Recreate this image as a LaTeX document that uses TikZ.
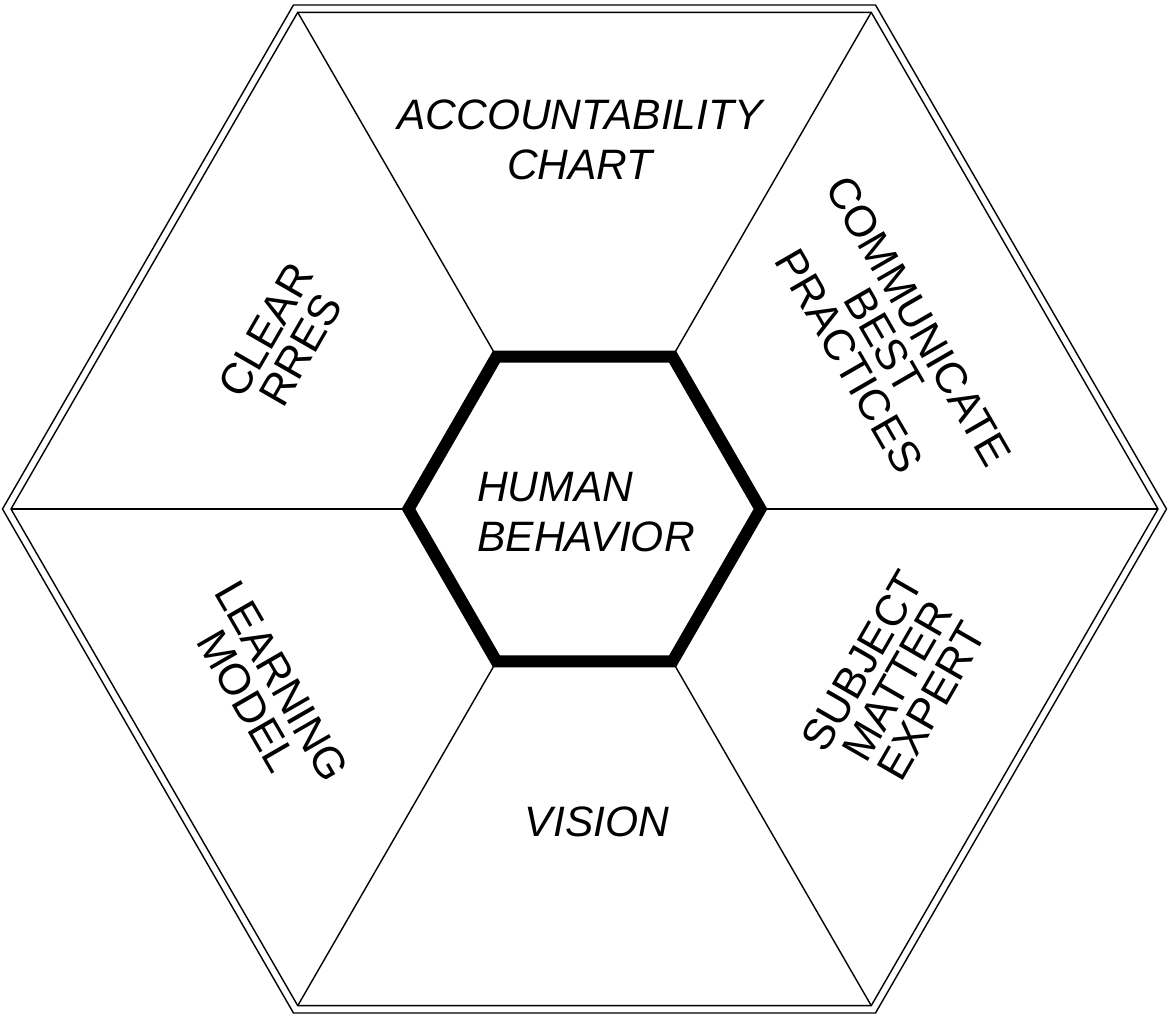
\documentclass[tikz,border=0pt]{standalone}
\usepackage{fontspec}
\setmainfont{Liberation Sans}
\begin{document}
\begin{tikzpicture}[
        word/.style={font=\fontsize{12.4}{11.4}\selectfont, align=center, inner sep=0pt},
        slantword/.style={word, font=\fontsize{12.1}{14.2}\selectfont\itshape}]
    \useasboundingbox (-5.845, -5.07) rectangle (5.845, 5.09);
    % spokes from the hub to the rim
    \foreach \i in {0,...,5}{
        \coordinate (hub\i) at (\i*60:1.76);
        \coordinate (rim\i) at (\i*60:5.735);
        \coordinate (edge\i) at (\i*60:5.82);
        \draw [line width=0.4pt] (hub\i) -- (rim\i);
    }
    % double rim
    \draw [line width=0.4pt] (rim0) -- (rim1) -- (rim2) -- (rim3) -- (rim4) -- (rim5) -- cycle;
    \draw [line width=0.4pt] (edge0) -- (edge1) -- (edge2) -- (edge3) -- (edge4) -- (edge5) -- cycle;
    % thick hub
    \draw [line width=3.4pt] (hub0) -- (hub1) -- (hub2) -- (hub3) -- (hub4) -- (hub5) -- cycle;
    \node (hub) [slantword, align=left] at (0.015, -0.03){HUMAN\\BEHAVIOR};
    \node (chart) [slantword] at (-0.045, 3.69){ACCOUNTABILITY\\CHART};
    \node (vision) [slantword] at (0.125, -3.13){VISION};
    \node (clear) [word, rotate=60] at (-3.015, 1.69){CLEAR\\RRES};
    \node (communicate) [word, rotate=-60] at (2.995, 1.68){COMMUNICATE\\BEST\\PRACTICES};
    \node (expert) [word, rotate=60] at (3.125, -1.72){SUBJECT\\MATTER\\EXPERT};
    \node (learning) [word, rotate=-60] at (-3.2, -1.82){LEARNING\\MODEL};
\end{tikzpicture}
\end{document}
